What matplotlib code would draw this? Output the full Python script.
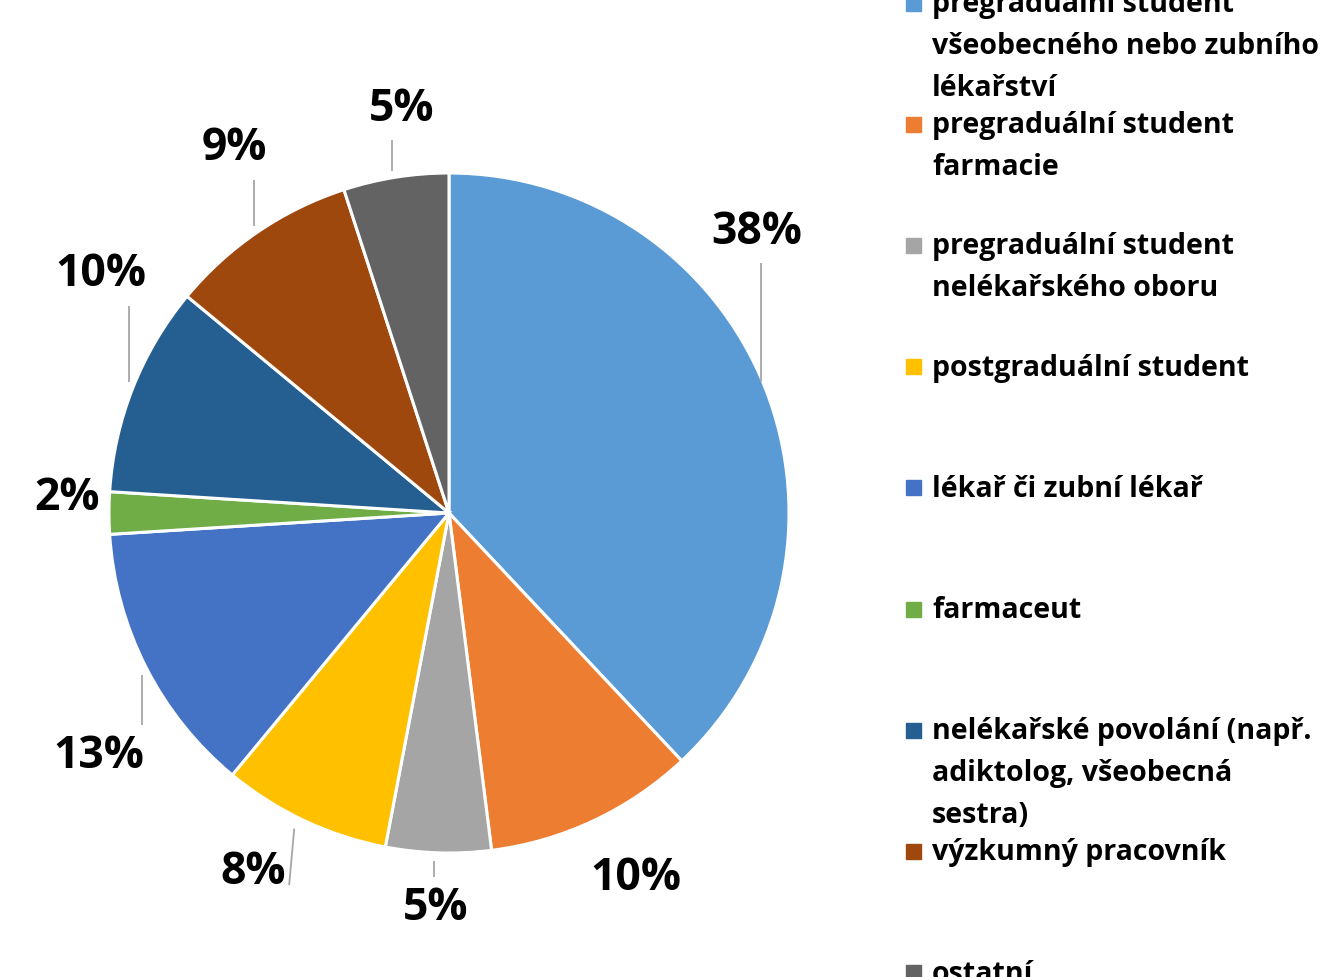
import matplotlib
matplotlib.use("Agg")
import matplotlib.pyplot as plt
import numpy as np

# data
categories = [
    "pregraduální student\nvšeobecného nebo zubního\nlékařství",
    "pregraduální student\nfarmacie",
    "pregraduální student\nnelékařského oboru",
    "postgraduální student",
    "lékař či zubní lékař",
    "farmaceut",
    "nelékařské povolání (např.\nadiktolog, všeobecná\nsestra)",
    "výzkumný pracovník",
    "ostatní",
]
shares = [38, 10, 5, 8, 13, 2, 10, 9, 5]
colors = ["#5B9BD5", "#ED7D31", "#A5A5A5", "#FFC000", "#4472C4",
          "#70AD47", "#255E91", "#9E480E", "#636363"]

# layout (pixels, y measured from the top of the image)
W, H = 1324, 977
cx, cy, R = 449, 513, 340
# label centres relative to pie centre, in radius units (x right, y up)
label_offsets = [(0.906, 0.826), (0.55, -1.074), (-0.038, -1.162),
                 (-0.576, -1.056), (-1.029, -0.715), (-1.124, 0.044),
                 (-1.024, 0.700), (-0.632, 1.071), (-0.138, 1.188)]
show_leader = [True, False, True, True, True, False, True, True, True]

plt.rcParams['font.family'] = ['Open Sans', 'DejaVu Sans']

fig = plt.figure(figsize=(W / 100, H / 100), dpi=100)
ax = fig.add_axes([0, 0, 1, 1])

wedges, _ = ax.pie(shares, colors=colors, startangle=90, counterclock=False,
                   center=(cx, H - cy), radius=R,
                   wedgeprops=dict(edgecolor="white", linewidth=2.2))
ax.set_xlim(0, W)
ax.set_ylim(0, H)
ax.set_aspect("equal")
ax.axis("off")

# percent labels with leader lines
for w, v, (ox, oy), lead in zip(wedges, shares, label_offsets, show_leader):
    lx = cx + ox * R
    ly = (H - cy) + oy * R
    txt = f"{v}%"
    ax.text(lx, ly, txt, fontsize=32, fontweight="bold",
            ha="center", va="center", color="black")
    if not lead:
        continue
    mid = np.deg2rad((w.theta1 + w.theta2) / 2)
    ex = cx + R * np.cos(mid)
    ey = (H - cy) + R * np.sin(mid)
    hw = 15 * len(txt)
    if abs(ex - lx) > hw + 5:
        # attach to the side of the label
        side = np.sign(ex - lx)
        tx, ty = lx + side * (hw + 6), ly - 13
        ex = ex - side * 10
    else:
        ex = ex - 4
        tx = ex
        ty = ly - 31 if oy > 0 else ly + 31
    ey = ey + (6 if oy > 0 else -8)
    ax.plot([ex, tx], [ey, ty], color="#A6A6A6", lw=1.3,
            solid_capstyle="butt")

# legend drawn by hand (evenly spaced entries, like the original)
first_y, step, line_h = 3, 121.2, 42
for i, (name, col) in enumerate(zip(categories, colors)):
    my = first_y + i * step
    ax.add_patch(plt.Rectangle((906, H - my - 7.5), 15, 15, color=col,
                               clip_on=False))
    for j, line in enumerate(name.split("\n")):
        ax.text(932, H - (my + 9 + j * line_h), line, fontsize=20.5,
                fontweight="bold", ha="left", va="baseline", color="black")

fig.savefig("out.png", dpi=100)
